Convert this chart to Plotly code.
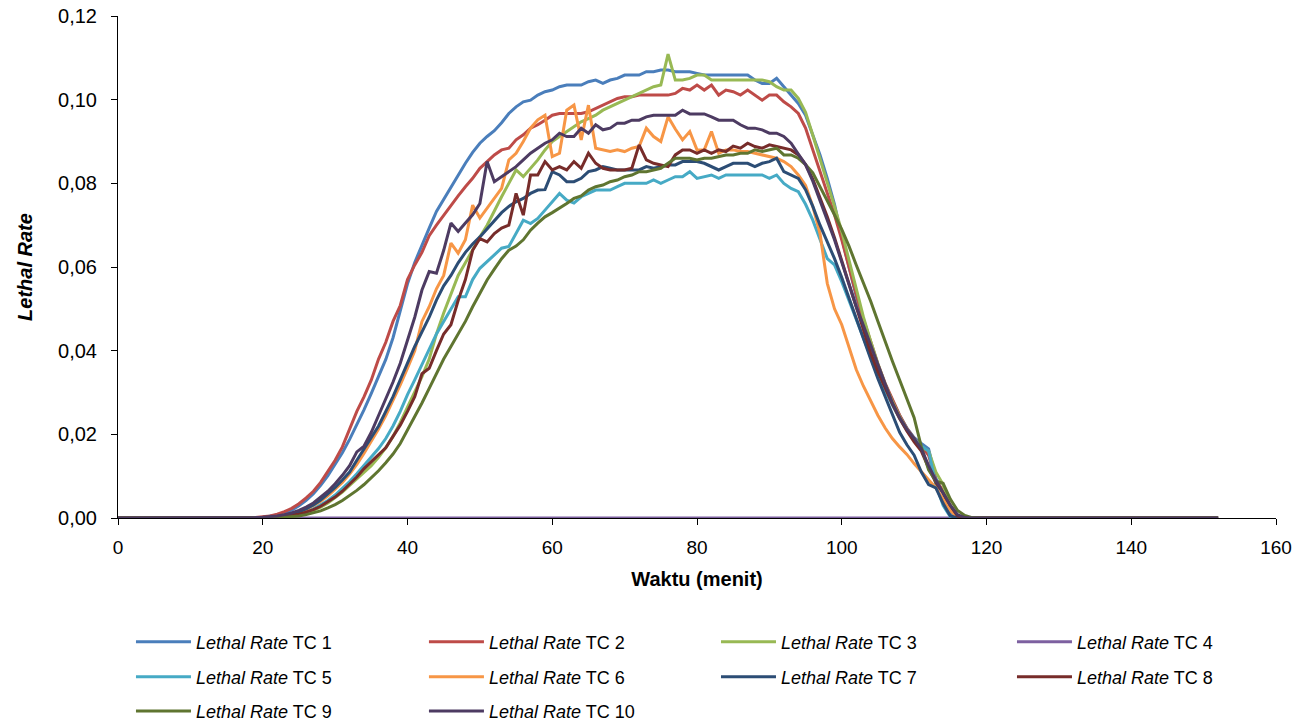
import plotly.graph_objects as go

# time axis (minutes)
minutes = list(range(0, 153))
LEAD_ZEROS = 18   # t = 0..17
TAIL_ZEROS = 34   # t = 119..152

# Lethal rate readings for t = 18..118 (one value per minute)
tc1 = [0.0, 0.0001, 0.0002, 0.0004, 0.0007, 0.0012, 0.0019, 0.0029, 0.0042, 0.0058,
       0.0078, 0.0101, 0.0127, 0.0156, 0.0188, 0.0222, 0.0259, 0.0298, 0.0338, 0.0379,
       0.0431, 0.0497, 0.0560, 0.0611, 0.0650, 0.0693, 0.0733, 0.0762, 0.0790, 0.0820,
       0.0848, 0.0874, 0.0896, 0.0912, 0.0926, 0.0945, 0.0967, 0.0983, 0.0995, 0.0999,
       0.1011, 0.1019, 0.1023, 0.1031, 0.1035, 0.1035, 0.1035, 0.1043, 0.1047, 0.1039,
       0.1047, 0.1051, 0.1059, 0.1059, 0.1059, 0.1067, 0.1067, 0.1071, 0.1071, 0.1067,
       0.1067, 0.1067, 0.1063, 0.1059, 0.1059, 0.1059, 0.1059, 0.1059, 0.1059, 0.1059,
       0.1047, 0.1039, 0.1039, 0.1051, 0.1031, 0.1011, 0.0991, 0.0963, 0.0915, 0.0868,
       0.0812, 0.0750, 0.0670, 0.0600, 0.0530, 0.0470, 0.0415, 0.0362, 0.0318, 0.0280,
       0.0245, 0.0215, 0.0192, 0.0178, 0.0165, 0.0095, 0.0060, 0.0012, 0.0001, 0.0,
       0.0]

tc2 = [0.0, 0.0001, 0.0003, 0.0005, 0.0009, 0.0015, 0.0023, 0.0034, 0.0048, 0.0064,
       0.0085, 0.0110, 0.0138, 0.0170, 0.0212, 0.0255, 0.0290, 0.0330, 0.0380, 0.0420,
       0.0470, 0.0508, 0.0570, 0.0605, 0.0635, 0.0675, 0.0700, 0.0724, 0.0748, 0.0770,
       0.0792, 0.0812, 0.0836, 0.0852, 0.0868, 0.0880, 0.0884, 0.0904, 0.0916, 0.0932,
       0.0940, 0.0951, 0.0963, 0.0967, 0.0967, 0.0967, 0.0967, 0.0971, 0.0979, 0.0987,
       0.0995, 0.1003, 0.1007, 0.1007, 0.1011, 0.1011, 0.1011, 0.1011, 0.1011, 0.1015,
       0.1027, 0.1023, 0.1035, 0.1023, 0.1035, 0.1011, 0.1023, 0.1019, 0.1011, 0.1023,
       0.1011, 0.0999, 0.1011, 0.1011, 0.0995, 0.0983, 0.0967, 0.0932, 0.0880, 0.0830,
       0.0780, 0.0725, 0.0665, 0.0598, 0.0535, 0.0475, 0.0420, 0.0368, 0.0322, 0.0282,
       0.0246, 0.0214, 0.0190, 0.0172, 0.0150, 0.0090, 0.0065, 0.0020, 0.0003, 0.0,
       0.0]

tc3 = [0.0, 0.0, 0.0001, 0.0001, 0.0002, 0.0003, 0.0005, 0.0008, 0.0012, 0.0018,
       0.0026, 0.0036, 0.0048, 0.0062, 0.0078, 0.0094, 0.0110, 0.0125, 0.0145, 0.0168,
       0.0195, 0.0228, 0.0265, 0.0300, 0.0338, 0.0380, 0.0440, 0.0490, 0.0535, 0.0580,
       0.0610, 0.0642, 0.0672, 0.0700, 0.0735, 0.0768, 0.0800, 0.0832, 0.0816, 0.0836,
       0.0856, 0.0880, 0.0900, 0.0912, 0.0924, 0.0936, 0.0947, 0.0955, 0.0963, 0.0975,
       0.0983, 0.0991, 0.0999, 0.1007, 0.1015, 0.1023, 0.1031, 0.1035, 0.1109, 0.1047,
       0.1047, 0.1051, 0.1059, 0.1059, 0.1047, 0.1047, 0.1047, 0.1047, 0.1047, 0.1047,
       0.1047, 0.1047, 0.1043, 0.1031, 0.1023, 0.1023, 0.1003, 0.0970, 0.0915, 0.0860,
       0.0800, 0.0745, 0.0685, 0.0615, 0.0545, 0.0480, 0.0422, 0.0368, 0.0320, 0.0278,
       0.0242, 0.0212, 0.0188, 0.0170, 0.0160, 0.0110, 0.0080, 0.0025, 0.0004, 0.0,
       0.0]

tc4 = [0.0] * 101

tc5 = [0.0, 0.0, 0.0001, 0.0001, 0.0002, 0.0004, 0.0006, 0.0010, 0.0015, 0.0022,
       0.0031, 0.0042, 0.0055, 0.0070, 0.0087, 0.0106, 0.0126, 0.0146, 0.0166, 0.0190,
       0.0220, 0.0255, 0.0295, 0.0330, 0.0368, 0.0405, 0.0440, 0.0470, 0.0500, 0.0529,
       0.0529, 0.0570, 0.0597, 0.0613, 0.0629, 0.0645, 0.0649, 0.0680, 0.0712, 0.0704,
       0.0716, 0.0736, 0.0756, 0.0776, 0.0760, 0.0753, 0.0768, 0.0776, 0.0784, 0.0784,
       0.0784, 0.0792, 0.0800, 0.0800, 0.0800, 0.0800, 0.0808, 0.0800, 0.0808, 0.0816,
       0.0816, 0.0828, 0.0812, 0.0816, 0.0820, 0.0812, 0.0820, 0.0820, 0.0820, 0.0820,
       0.0820, 0.0820, 0.0812, 0.0820, 0.0800, 0.0788, 0.0780, 0.0750, 0.0712, 0.0665,
       0.0620, 0.0605, 0.0565, 0.0520, 0.0475, 0.0428, 0.0385, 0.0345, 0.0305, 0.0270,
       0.0238, 0.0210, 0.0188, 0.0172, 0.0160, 0.0080, 0.0030, 0.0003, 0.0, 0.0,
       0.0]

tc6 = [0.0, 0.0, 0.0001, 0.0002, 0.0003, 0.0005, 0.0008, 0.0013, 0.0020, 0.0029,
       0.0040, 0.0053, 0.0068, 0.0085, 0.0105, 0.0128, 0.0155, 0.0183, 0.0213, 0.0245,
       0.0280, 0.0318, 0.0358, 0.0400, 0.0470, 0.0505, 0.0548, 0.0580, 0.0657, 0.0633,
       0.0665, 0.0748, 0.0717, 0.0741, 0.0765, 0.0788, 0.0856, 0.0872, 0.0900, 0.0932,
       0.0952, 0.0963, 0.0864, 0.0872, 0.0975, 0.0987, 0.0904, 0.0987, 0.0884, 0.0880,
       0.0876, 0.0880, 0.0876, 0.0884, 0.0888, 0.0932, 0.0912, 0.0900, 0.0959, 0.0930,
       0.0904, 0.0924, 0.0880, 0.0880, 0.0924, 0.0872, 0.0880, 0.0880, 0.0876, 0.0876,
       0.0872, 0.0868, 0.0864, 0.0860, 0.0852, 0.0840, 0.0820, 0.0795, 0.0745, 0.0680,
       0.0561, 0.0500, 0.0462, 0.0410, 0.0355, 0.0315, 0.0278, 0.0245, 0.0215, 0.0190,
       0.0170, 0.0152, 0.0130, 0.0110, 0.0090, 0.0072, 0.0045, 0.0018, 0.0002, 0.0,
       0.0]

tc7 = [0.0, 0.0001, 0.0001, 0.0002, 0.0004, 0.0006, 0.0010, 0.0015, 0.0022, 0.0031,
       0.0043, 0.0057, 0.0073, 0.0091, 0.0110, 0.0138, 0.0165, 0.0190, 0.0220, 0.0255,
       0.0290, 0.0330, 0.0370, 0.0410, 0.0445, 0.0480, 0.0521, 0.0555, 0.0580, 0.0610,
       0.0635, 0.0655, 0.0672, 0.0692, 0.0710, 0.0730, 0.0745, 0.0756, 0.0764, 0.0776,
       0.0784, 0.0785, 0.0828, 0.0820, 0.0804, 0.0804, 0.0812, 0.0828, 0.0832, 0.0840,
       0.0836, 0.0832, 0.0832, 0.0832, 0.0832, 0.0840, 0.0836, 0.0840, 0.0844, 0.0844,
       0.0852, 0.0852, 0.0852, 0.0848, 0.0840, 0.0832, 0.0840, 0.0848, 0.0848, 0.0848,
       0.0840, 0.0848, 0.0852, 0.0860, 0.0828, 0.0820, 0.0812, 0.0785, 0.0745, 0.0700,
       0.0660, 0.0620, 0.0575, 0.0525, 0.0478, 0.0430, 0.0380, 0.0333, 0.0290, 0.0248,
       0.0205, 0.0175, 0.0150, 0.0110, 0.0080, 0.0072, 0.0035, 0.0005, 0.0, 0.0,
       0.0]

tc8 = [0.0, 0.0, 0.0001, 0.0001, 0.0002, 0.0004, 0.0006, 0.0009, 0.0014, 0.0020,
       0.0028, 0.0038, 0.0050, 0.0064, 0.0080, 0.0098, 0.0118, 0.0135, 0.0150, 0.0168,
       0.0195, 0.0222, 0.0255, 0.0290, 0.0345, 0.0358, 0.0400, 0.0440, 0.0462, 0.0520,
       0.0570, 0.0640, 0.0668, 0.0660, 0.0680, 0.0693, 0.0700, 0.0776, 0.0724, 0.0820,
       0.0820, 0.0852, 0.0832, 0.0840, 0.0832, 0.0852, 0.0836, 0.0872, 0.0848, 0.0836,
       0.0832, 0.0832, 0.0832, 0.0836, 0.0892, 0.0856, 0.0848, 0.0844, 0.0840, 0.0868,
       0.0880, 0.0880, 0.0872, 0.0880, 0.0872, 0.0880, 0.0876, 0.0889, 0.0884, 0.0896,
       0.0888, 0.0884, 0.0892, 0.0888, 0.0884, 0.0880, 0.0868, 0.0845, 0.0810, 0.0765,
       0.0720, 0.0670, 0.0615, 0.0558, 0.0500, 0.0445, 0.0395, 0.0350, 0.0310, 0.0272,
       0.0238, 0.0208, 0.0182, 0.0160, 0.0120, 0.0085, 0.0060, 0.0030, 0.0005, 0.0,
       0.0]

tc9 = [0.0, 0.0, 0.0, 0.0001, 0.0001, 0.0002, 0.0003, 0.0005, 0.0008, 0.0012,
       0.0017, 0.0024, 0.0032, 0.0042, 0.0053, 0.0066, 0.0080, 0.0096, 0.0113, 0.0132,
       0.0153, 0.0178, 0.0210, 0.0240, 0.0275, 0.0310, 0.0345, 0.0380, 0.0410, 0.0440,
       0.0470, 0.0505, 0.0537, 0.0569, 0.0595, 0.0620, 0.0640, 0.0650, 0.0665, 0.0688,
       0.0705, 0.0720, 0.0730, 0.0740, 0.0752, 0.0764, 0.0770, 0.0784, 0.0792, 0.0796,
       0.0804, 0.0808, 0.0816, 0.0820, 0.0828, 0.0828, 0.0832, 0.0836, 0.0848, 0.0860,
       0.0860, 0.0860, 0.0856, 0.0860, 0.0860, 0.0864, 0.0868, 0.0868, 0.0872, 0.0872,
       0.0880, 0.0876, 0.0880, 0.0884, 0.0868, 0.0868, 0.0860, 0.0845, 0.0825, 0.0792,
       0.0760, 0.0725, 0.0690, 0.0650, 0.0605, 0.0562, 0.0518, 0.0470, 0.0420, 0.0375,
       0.0330, 0.0285, 0.0240, 0.0170, 0.0115, 0.0088, 0.0083, 0.0045, 0.0018, 0.0006,
       0.0001]

tc10 = [0.0, 0.0001, 0.0002, 0.0003, 0.0005, 0.0008, 0.0012, 0.0018, 0.0026, 0.0036,
        0.0049, 0.0064, 0.0082, 0.0102, 0.0125, 0.0158, 0.0172, 0.0205, 0.0245, 0.0285,
        0.0325, 0.0370, 0.0425, 0.0480, 0.0545, 0.0589, 0.0585, 0.0640, 0.0705, 0.0685,
        0.0705, 0.0725, 0.0752, 0.0852, 0.0804, 0.0816, 0.0828, 0.0840, 0.0856, 0.0872,
        0.0884, 0.0896, 0.0904, 0.0920, 0.0912, 0.0912, 0.0932, 0.0920, 0.0940, 0.0928,
        0.0932, 0.0944, 0.0944, 0.0951, 0.0951, 0.0959, 0.0963, 0.0963, 0.0963, 0.0963,
        0.0975, 0.0966, 0.0966, 0.0966, 0.0959, 0.0951, 0.0951, 0.0951, 0.0940, 0.0932,
        0.0932, 0.0928, 0.0920, 0.0920, 0.0912, 0.0896, 0.0870, 0.0845, 0.0805, 0.0760,
        0.0712, 0.0665, 0.0610, 0.0555, 0.0505, 0.0460, 0.0415, 0.0365, 0.0320, 0.0275,
        0.0240, 0.0212, 0.0190, 0.0165, 0.0125, 0.0090, 0.0060, 0.0030, 0.0008, 0.0001,
        0.0]

series = [
    ("TC 1", tc1, "#4A7EBB"),
    ("TC 2", tc2, "#BE4B48"),
    ("TC 3", tc3, "#98B954"),
    ("TC 4", tc4, "#7D60A0"),
    ("TC 5", tc5, "#46AAC5"),
    ("TC 6", tc6, "#F79646"),
    ("TC 7", tc7, "#2C4D75"),
    ("TC 8", tc8, "#772C2A"),
    ("TC 9", tc9, "#5F7530"),
    ("TC 10", tc10, "#4D3B62"),
]

# legend grid: 4 columns x 3 rows (paper coordinates of each slot)
legend_cols = [0.0112, 0.2642, 0.5164, 0.7720]
legend_rows = [-0.247, -0.317, -0.385]

fig = go.Figure()
layout_legends = {}
for i, (name, vals, color) in enumerate(series):
    y = [0.0] * LEAD_ZEROS + vals + [0.0] * TAIL_ZEROS
    lid = "legend" if i == 0 else "legend%d" % (i + 1)
    fig.add_trace(go.Scatter(
        x=minutes, y=y, mode="lines",
        name="<i>Lethal Rate</i> " + name,
        line=dict(color=color, width=3),
        legend=lid,
    ))
    layout_legends[lid] = dict(
        orientation="h", x=legend_cols[i % 4], y=legend_rows[i // 4],
        xanchor="left", yanchor="middle",
        itemwidth=55, font=dict(size=18, family="Liberation Sans, Arial, sans-serif"),
        bgcolor="rgba(0,0,0,0)",
    )

fig.update_layout(
    width=1307, height=727,
    margin=dict(l=118, r=31, t=16, b=209, autoexpand=False),
    paper_bgcolor="white", plot_bgcolor="white",
    font=dict(family="Liberation Sans, Arial, sans-serif", size=18, color="black"),
    separators=",.",
    xaxis=dict(
        range=[0, 160], tick0=0, dtick=20,
        showline=True, linecolor="black", linewidth=1,
        ticks="outside", ticklen=6, tickcolor="black",
        ticklabelstandoff=6, tickfont=dict(size=19),
        ticklabeloverflow="allow",
        showgrid=False, zeroline=False, automargin=False,
        title=dict(text="<b>Waktu (menit)</b>", standoff=15, font=dict(size=20)),
    ),
    yaxis=dict(
        range=[0, 0.12001], tick0=0, dtick=0.02, tickformat=".2f",
        showline=True, linecolor="black", linewidth=1,
        ticks="outside", ticklen=6, tickcolor="black",
        ticklabelstandoff=10, tickfont=dict(size=20),
        ticklabeloverflow="allow",
        showgrid=False, zeroline=False, automargin=False,
        title=dict(text="<b><i>Lethal Rate</i></b>", standoff=20, font=dict(size=20)),
    ),
    showlegend=True,
    **layout_legends,
)

# remove the browser's default 8px page margin so the figure sits at (0, 0)
fig.write_html(
    "out.html",
    config={"displayModeBar": False},
    post_script="document.body.style.margin='0px';",
)
